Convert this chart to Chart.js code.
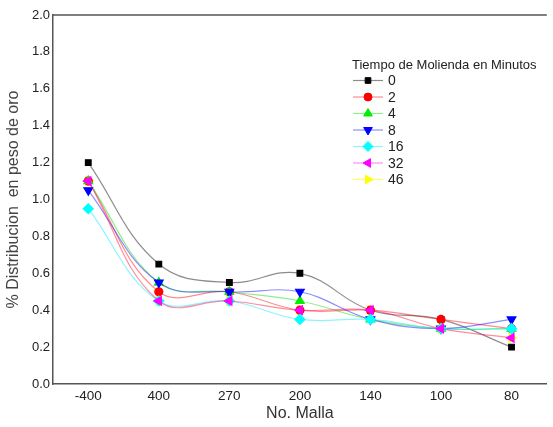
<!DOCTYPE html>
<html>
<head>
<meta charset="utf-8">
<script src="https://cdn.jsdelivr.net/npm/chart.js@4/dist/chart.umd.min.js"></script>
<style>
  html, body { margin: 0; padding: 0; background: #fff; }
  #wrap { width: 553px; height: 427px; position: relative; }
</style>
</head>
<body>
<div id="wrap"><canvas id="chart1"></canvas></div>
<script>
// mesh sizes on the x axis
const mallas = ['-400', '400', '270', '200', '140', '100', '80'];
const yTicks = [0, 0.2, 0.4, 0.6, 0.8, 1.0, 1.2, 1.4, 1.6, 1.8, 2.0];

// one series per grinding time (minutes)
const t0  = [1.20, 0.65, 0.55, 0.60, 0.40, 0.35, 0.20];
const t2  = [1.10, 0.50, 0.50, 0.40, 0.40, 0.35, 0.30];
const t4  = [1.10, 0.55, 0.50, 0.45, 0.35, 0.30, 0.30];
const t8  = [1.05, 0.55, 0.50, 0.50, 0.35, 0.30, 0.35];
const t16 = [0.95, 0.45, 0.45, 0.35, 0.35, 0.30, 0.30];
const t32 = [1.10, 0.45, 0.45, 0.40, 0.40, 0.30, 0.25];
const t46 = [1.10, 0.45, 0.45, 0.40, 0.40, 0.30, 0.25];

const labels = ['0', '2', '4', '8', '16', '32', '46'];
const series = [t0, t2, t4, t8, t16, t32, t46];
const markColor = ['#000000', '#ff0000', '#00ee00', '#0000ff', '#00ffff', '#ff00ff', '#ffff00'];
const lineColor = ['rgba(0,0,0,0.45)', 'rgba(255,0,0,0.45)', 'rgba(0,220,0,0.45)', 'rgba(0,0,255,0.45)',
                   'rgba(0,230,255,0.45)', 'rgba(255,0,255,0.45)', 'rgba(255,255,0,0.6)'];
const styles = ['rect', 'circle', 'triangle', 'triangle', 'rectRot', 'triangle', 'triangle'];
const rots = [0, 0, 0, 180, 0, -90, 90];
const radii = [4, 4, 5, 5, 5, 5, 5];
const drawOrder = [6, 5, 4, 3, 2, 1, 7];
const FONT = 'Arial, "Liberation Sans", sans-serif';

const datasets = series.map((d, i) => ({
  label: labels[i],
  data: d,
  borderColor: lineColor[i],
  backgroundColor: markColor[i],
  pointBackgroundColor: markColor[i],
  pointBorderColor: markColor[i],
  pointStyle: styles[i],
  rotation: rots[i],
  pointRadius: radii[i],
  borderWidth: 1.2,
  tension: 0.4,
  order: drawOrder[i]
}));

// top frame line + legend inside the plot
const extras = {
  id: 'extras',
  afterDraw(chart) {
    const c = chart.ctx;
    const a = chart.chartArea;
    c.save();
    c.strokeStyle = '#555';
    c.lineWidth = 1.5;
    c.beginPath();
    c.moveTo(a.left, a.top);
    c.lineTo(a.right, a.top);
    c.stroke();

    c.fillStyle = '#222';
    c.font = '13px ' + FONT;
    c.textBaseline = 'middle';
    c.textAlign = 'left';
    c.fillText('Tiempo de Molienda en Minutos', 352, 65);
    labels.forEach((lab, i) => {
      const y = 80.5 + i * 16.5;
      c.strokeStyle = lineColor[i];
      c.lineWidth = 1.2;
      c.beginPath();
      c.moveTo(353, y);
      c.lineTo(383, y);
      c.stroke();
      c.fillStyle = markColor[i];
      c.strokeStyle = markColor[i];
      c.lineWidth = 1;
      Chart.helpers.drawPoint(c, {
        pointStyle: styles[i], rotation: rots[i], radius: radii[i], borderWidth: 1
      }, 368, y);
      c.fillStyle = '#222';
      c.font = '14px ' + FONT;
      c.fillText(lab, 388, y + 1);
    });
    c.restore();
  }
};

new Chart(document.getElementById('chart1'), {
  type: 'line',
  data: { labels: mallas, datasets: datasets },
  options: {
    responsive: true,
    maintainAspectRatio: false,
    animation: false,
    layout: { padding: { top: 15, right: 0, left: 0, bottom: 0 } },
    plugins: { legend: { display: false }, tooltip: { enabled: false } },
    scales: {
      x: {
        offset: true,
        grid: { display: false, drawTicks: false },
        border: { display: true, color: '#555', width: 1.5 },
        ticks: { color: '#222', font: { size: 13.5, family: FONT }, padding: 4 },
        title: { display: true, text: 'No. Malla', color: '#333',
                 font: { size: 16, family: FONT }, padding: { top: 0 } },
        afterFit(s) { s.height = 43; }
      },
      y: {
        min: 0, max: 2.0,
        grid: { display: false, drawTicks: false },
        border: { display: true, color: '#555', width: 1.5 },
        afterBuildTicks(s) { s.ticks = yTicks.map(v => ({ value: v })); },
        ticks: { color: '#222', font: { size: 13, family: FONT }, padding: 3,
                 callback: v => v.toFixed(1) },
        title: { display: true, text: '% Distribucion  en peso de oro', color: '#444',
                 font: { size: 16, family: FONT }, padding: { top: 4, bottom: 2 } },
        afterFit(s) { s.width = 53; }
      }
    }
  },
  plugins: [extras]
});
</script>
</body>
</html>
